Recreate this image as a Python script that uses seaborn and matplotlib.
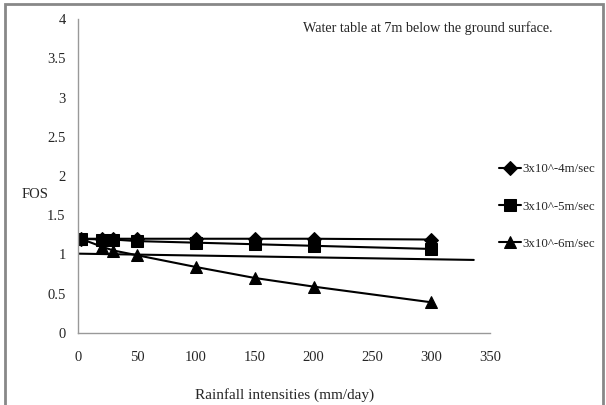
import matplotlib
matplotlib.use("Agg")
import matplotlib.pyplot as plt
import seaborn as sns
import pandas as pd
from matplotlib.patches import Rectangle

sns.set_style("white")
plt.rcParams['font.family'] = ['Liberation Serif', 'DejaVu Serif']

x_vals = [2, 20, 30, 50, 100, 150, 200, 300]
fos_4 = [1.20, 1.20, 1.20, 1.20, 1.20, 1.20, 1.20, 1.19]
fos_5 = [1.20, 1.19, 1.19, 1.17, 1.15, 1.13, 1.11, 1.07]
fos_6 = [1.20, 1.10, 1.05, 0.99, 0.84, 0.70, 0.59, 0.39]
series_names = ["3x10^-4m/sec", "3x10^-5m/sec", "3x10^-6m/sec"]
markers = ["D", "s", "^"]
trend_x = [0, 336]
trend_y = [1.01, 0.93]

fig = plt.figure(figsize=(6.06, 4.05), dpi=100)
ax = fig.add_axes([0.129, 0.178, 0.68, 0.775])

for name, vals, mk, ms in zip(series_names, [fos_4, fos_5, fos_6], markers, [7, 9, 9]):
    df = pd.DataFrame({"x": x_vals, "y": vals})
    sns.lineplot(data=df, x="x", y="y", ax=ax, color="black", lw=1.5,
                 marker=mk, markersize=ms, markeredgecolor="black",
                 markerfacecolor="black", label=name, legend=False)
handles = ax.get_lines()[:3]

tdf = pd.DataFrame({"x": trend_x, "y": trend_y})
sns.lineplot(data=tdf, x="x", y="y", ax=ax, color="black", lw=1.5, legend=False)

ax.set_xlim(0, 350)
ax.set_ylim(0, 4)
ax.set_xticks([0, 50, 100, 150, 200, 250, 300, 350])
ax.set_yticks([0, 0.5, 1, 1.5, 2, 2.5, 3, 3.5, 4])
ax.set_yticklabels(["0", "0.5", "1", "1.5", "2", "2.5", "3", "3.5", "4"])
for s in ["top", "right"]:
    ax.spines[s].set_visible(False)
for s in ["left", "bottom"]:
    ax.spines[s].set_color("#999999")
    ax.spines[s].set_linewidth(1)
ax.tick_params(axis="both", direction="out", length=4, color="#999999",
               labelsize=10.5, width=1)
ax.tick_params(axis="x", pad=9)
ax.tick_params(axis="y", pad=5)
ax.set_xlabel("Rainfall intensities (mm/day)", fontsize=11, labelpad=17)
ax.set_ylabel("")
fig.text(0.036, 0.52, "FOS", fontsize=10.5, ha="left", va="center")
fig.text(0.500, 0.931, "Water table at 7m below the ground surface.", fontsize=10.2,
         ha="left", va="center")

fig.legend(handles, series_names, loc="center left",
           bbox_to_anchor=(0.805, 0.49), frameon=False, fontsize=9.3,
           handlelength=1.7, handletextpad=0.1, labelspacing=1.95)

fig.patches.append(Rectangle((5/606, -0.02), 598/606, 1.01, transform=fig.transFigure,
                             fill=False, edgecolor="#888888", lw=2))

fig.savefig("out.png", dpi=100)
